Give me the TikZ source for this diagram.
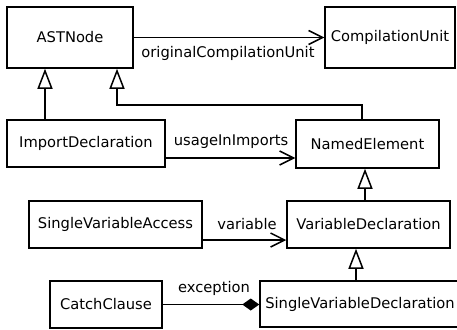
\documentclass[tikz,border=0pt]{standalone}
\usepackage{fontspec}
\setmainfont{DejaVu Sans}
\usetikzlibrary{arrows.meta}
\tikzset{
  cls/.style={draw, line width=1.5pt, rectangle, inner sep=0pt, font=\fontsize{14.7}{18}\selectfont},
  lab/.style={inner sep=0pt, font=\fontsize{14.7}{18}\selectfont},
  assoc/.style={line width=1.5pt, -{Straight Barb[length=14pt,width=14pt,line width=1.5pt]}},
  gen/.style={line width=1.5pt, -{Triangle[open,length=20pt,width=15pt,fill=white,line width=1.5pt]}},
  comp/.style={line width=1.5pt, -{Diamond[length=17pt,width=12pt]}}
}
\begin{document}
\begin{tikzpicture}[x=1pt,y=-1pt]
\useasboundingbox (0,0) rectangle (457,329);
% classes
\node[cls, minimum width=126pt, minimum height=61pt] (ast) at (70,37.5) {ASTNode};
\node[cls, minimum width=130pt, minimum height=61pt] (cu) at (390,37.5) {CompilationUnit};
\node[cls, minimum width=158pt, minimum height=47pt] (imp) at (86,143.5) {ImportDeclaration};
\node[cls, minimum width=143pt, minimum height=48pt] (ne) at (367.5,144) {NamedElement};
\node[cls, minimum width=173pt, minimum height=47pt] (sva) at (115.5,224.5) {SingleVariableAccess};
\node[cls, minimum width=163pt, minimum height=47pt] (vd) at (368.5,224.5) {VariableDeclaration};
\node[cls, minimum width=112pt, minimum height=47pt] (cc) at (106,304.5) {CatchClause};
\node[cls, minimum width=200pt, minimum height=46pt] (svd) at (360,304) {SingleVariableDeclaration};
% associations
\draw[assoc] (ast.east) -- (cu.west);
\node[lab] (l1) at (228,53) {originalCompilationUnit};
\coordinate (u1) at ([yshift=-14.5pt]imp.east);
\draw[assoc] (u1) -- (u1 -| ne.west);
\node[lab] (l2) at (231,142) {usageInImports};
\coordinate (v1) at ([yshift=-15.5pt]sva.east);
\draw[assoc] (v1) -- (v1 -| vd.west);
\node[lab] (l3) at (247,224) {variable};
\draw[comp] (cc.east) -- (cc.east -| svd.west);
\node[lab] (l4) at (214,288) {exception};
% generalizations
\draw[gen] (imp.north -| 45,0) -- (ast.south -| 45,0);
\coordinate (g1) at (ne.north -| 362,0);
\coordinate (g2) at (362,105);
\coordinate (g3) at (117,105);
\draw[gen] (g1) -- (g2) -- (g3) -- (ast.south -| g3);
\draw[gen] (vd.north -| 365,0) -- (ne.south -| 365,0);
\draw[gen] (svd.north -| 356,0) -- (vd.south -| 356,0);
\end{tikzpicture}
\end{document}
